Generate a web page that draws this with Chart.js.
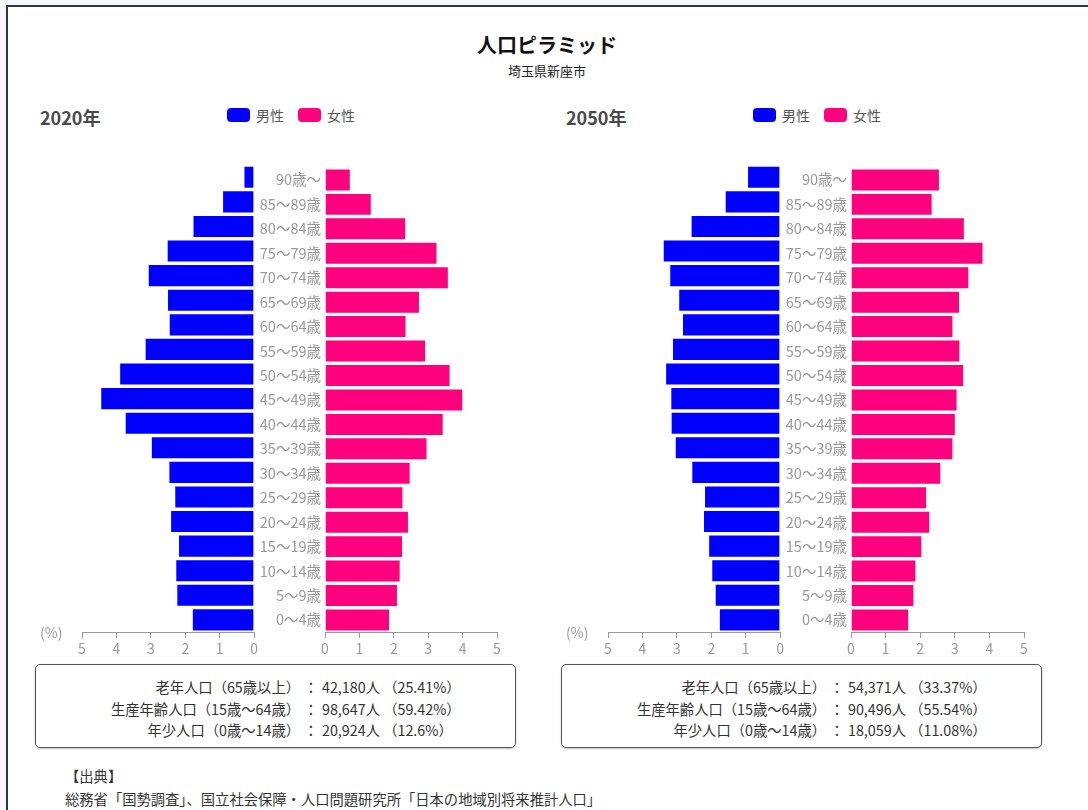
<!DOCTYPE html>
<html lang="ja">
<head>
<meta charset="utf-8">
<script src="https://cdn.jsdelivr.net/npm/chart.js@4"></script>
<style>
    body { margin: 0; width: 1088px; height: 810px; overflow: hidden; background: #f5f7fa;
           font-family: "Noto Sans CJK JP", "Noto Sans", sans-serif; }
    .frame { position: absolute; left: 6px; top: 5px; width: 1100px; height: 820px; background: #fff;
             border-top: 2px solid #2f3640; border-left: 2px solid #2f3640; }
    .abs { position: absolute; }
    .title { left: 0; width: 1094px; top: 30px; text-align: center; font-size: 20px; font-weight: bold; color: #111; }
    .subtitle { left: 0; width: 1094px; top: 61px; text-align: center; font-size: 13px; color: #222; }
    .year { font-size: 18px; font-weight: bold; color: #4a4a4a; top: 104px; }
    .legend { top: 105px; font-size: 14px; color: #555; display: flex; align-items: center; }
    .legend .box { display: inline-block; width: 23px; height: 14px; border-radius: 4px; margin-right: 6px; }
    .legend .item { display: flex; align-items: center; margin-right: 14px; }
    .pct { font-size: 14px; color: #999; top: 622px; }
    .chart { position: absolute; }
    .info { top: 664px; width: 481px; height: 84px; border: 1px solid #555; border-radius: 5px;
            box-shadow: 0 1px 2px rgba(0,0,0,0.25); box-sizing: border-box; }
    .info table { position: absolute; left: 0; top: 11px; border-collapse: collapse; font-size: 14.3px; color: #333; }
    .info td { padding: 0; height: 21.5px; white-space: nowrap; }
    .info td.l { width: 264px; text-align: right; }
    .info td.c { width: 22px; text-align: center; }
    .src { left: 65px; font-size: 14.3px; color: #333; }
</style>
</head>
<body>
<div class="frame"></div>
<div class="abs title">人口ピラミッド</div>
<div class="abs subtitle">埼玉県新座市</div>

<div class="abs year" style="left:40px">2020年</div>
<div class="abs legend" style="left:227px">
    <span class="item"><span class="box" style="background:#0000ff"></span>男性</span>
    <span class="item"><span class="box" style="background:#ff007f"></span>女性</span>
</div>
<div class="abs year" style="left:566px">2050年</div>
<div class="abs legend" style="left:753px">
    <span class="item"><span class="box" style="background:#0000ff"></span>男性</span>
    <span class="item"><span class="box" style="background:#ff007f"></span>女性</span>
</div>

<div class="chart" style="left:30px;top:155px;width:230px;height:504px"><canvas id="male2020"></canvas></div>
<div class="chart" style="left:244px;top:155px;width:261px;height:504px"><canvas id="female2020"></canvas></div>
<div class="chart" style="left:556px;top:155px;width:230px;height:504px"><canvas id="male2050"></canvas></div>
<div class="chart" style="left:770px;top:155px;width:262px;height:504px"><canvas id="female2050"></canvas></div>
<div class="abs pct" style="left:40px">(%)</div>
<div class="abs pct" style="left:566px">(%)</div>

<div class="abs info" style="left:35px">
    <table>
        <tr><td class="l">老年人口（65歳以上）</td><td class="c">：</td><td>42,180人 （25.41%）</td></tr>
        <tr><td class="l">生産年齢人口（15歳〜64歳）</td><td class="c">：</td><td>98,647人 （59.42%）</td></tr>
        <tr><td class="l">年少人口（0歳〜14歳）</td><td class="c">：</td><td>20,924人 （12.6%）</td></tr>
    </table>
</div>
<div class="abs info" style="left:561px">
    <table>
        <tr><td class="l">老年人口（65歳以上）</td><td class="c">：</td><td>54,371人 （33.37%）</td></tr>
        <tr><td class="l">生産年齢人口（15歳〜64歳）</td><td class="c">：</td><td>90,496人 （55.54%）</td></tr>
        <tr><td class="l">年少人口（0歳〜14歳）</td><td class="c">：</td><td>18,059人 （11.08%）</td></tr>
    </table>
</div>

<div class="abs src" style="top:765px">【出典】</div>
<div class="abs src" style="top:788px">総務省「国勢調査」、国立社会保障・人口問題研究所「日本の地域別将来推計人口」</div>

<script>
// age groups, top to bottom
const ages = ['90歳〜', '85〜89歳', '80〜84歳', '75〜79歳', '70〜74歳', '65〜69歳', '60〜64歳',
    '55〜59歳', '50〜54歳', '45〜49歳', '40〜44歳', '35〜39歳', '30〜34歳', '25〜29歳',
    '20〜24歳', '15〜19歳', '10〜14歳', '5〜9歳', '0〜4歳'];

// share of total population (%)
const male2020 = [0.31, 0.93, 1.79, 2.54, 3.09, 2.53, 2.48, 3.18, 3.92, 4.47, 3.76, 3.0, 2.49, 2.32, 2.44, 2.21, 2.29, 2.26, 1.81];
const female2020 = [0.75, 1.36, 2.36, 3.27, 3.6, 2.76, 2.37, 2.94, 3.65, 4.02, 3.45, 2.98, 2.49, 2.28, 2.44, 2.27, 2.2, 2.12, 1.89];
const male2050 = [0.96, 1.61, 2.6, 3.41, 3.22, 2.96, 2.85, 3.14, 3.34, 3.19, 3.18, 3.06, 2.58, 2.21, 2.24, 2.09, 2.0, 1.9, 1.78];
const female2050 = [2.57, 2.36, 3.29, 3.83, 3.42, 3.15, 2.96, 3.16, 3.27, 3.08, 3.03, 2.96, 2.61, 2.2, 2.29, 2.06, 1.89, 1.83, 1.68];

const axisMax = 5;

const colors = {
    male: '#0000ff',
    female: '#ff007f',
    tick: '#999'
};

const tickFont = { family: '"Noto Sans CJK JP", sans-serif', size: 14 };
const ageFont = { family: '"Noto Sans CJK JP", sans-serif', size: 14.5 };

function pyramidHalf(id, label, values, color, isFemale) {
    new Chart(document.getElementById(id), {
        type: 'bar',
        data: {
            labels: ages,
            datasets: [{
                label: label,
                data: values,
                backgroundColor: color,
                borderColor: 'rgba(255,255,255,0.65)',
                borderWidth: 1,
                barPercentage: 0.94,
                categoryPercentage: 1
            }]
        },
        options: {
            indexAxis: 'y',
            responsive: true,
            maintainAspectRatio: false,
            animation: false,
            layout: { padding: isFemale ? { top: 10, right: 8 } : { top: 10, left: 52, right: 0 } },
            plugins: { legend: { display: false }, tooltip: { enabled: false } },
            scales: {
                x: {
                    min: 0,
                    max: axisMax,
                    reverse: !isFemale,
                    grid: { drawOnChartArea: false, drawTicks: true, tickLength: 6, color: colors.tick },
                    border: { display: true, color: colors.tick },
                    ticks: { stepSize: 1, color: colors.tick, font: tickFont, padding: 2 }
                },
                y: isFemale ? {
                    grid: { display: false, drawTicks: false },
                    border: { display: false },
                    ticks: { color: colors.tick, font: ageFont, padding: 4, autoSkip: false },
                    afterFit: s => { s.width = 81; }
                } : { display: false }
            }
        }
    });
}

pyramidHalf('male2020', '男性', male2020, colors.male, false);
pyramidHalf('female2020', '女性', female2020, colors.female, true);
pyramidHalf('male2050', '男性', male2050, colors.male, false);
pyramidHalf('female2050', '女性', female2050, colors.female, true);
</script>
</body>
</html>
